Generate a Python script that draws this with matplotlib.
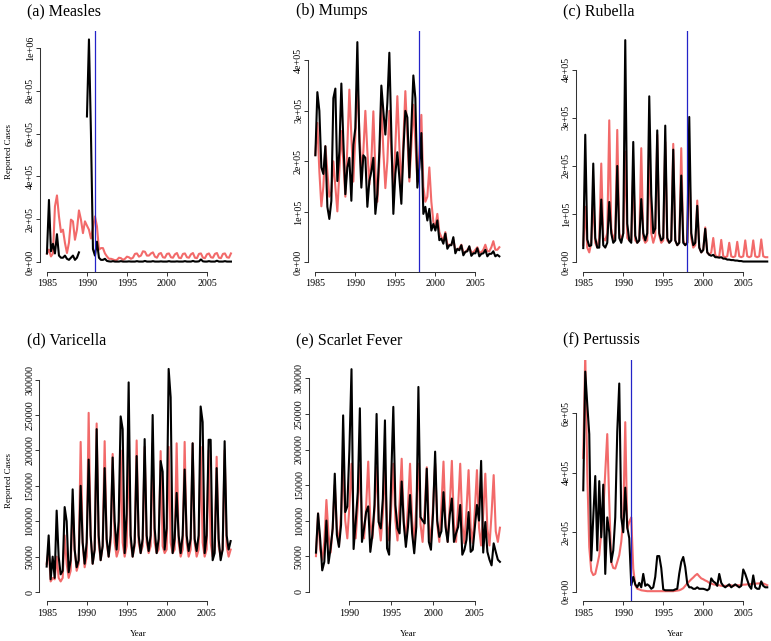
import numpy as np
import matplotlib
matplotlib.use("Agg")
import matplotlib.pyplot as plt

nan = np.nan

# ---------------- data (thousands of cases, quarterly samples) ----------------
# (a) Measles
measles_obs = [40, 290, 50, 85,  40, 130, 30, 20,  20, 30, 15, 10,  20, 30, 10, 20,
               45, nan, nan, nan,  680, 1040, 600, 60,  30, 95, 20, 10,  10, 15, 5, 3,
               2, 4, 2, 2,  2, 4, 2, 2,  2, 3, 2, 2,  2, 4, 2, 2,  2, 5, 2, 2,
               2, 4, 2, 2,  2, 3, 2, 2,  2, 4, 2, 2,  2, 3, 2, 2,  2, 4, 2, 2,
               2, 5, 2, 2,  3, 12, 3, 2,  2, 4, 2, 2,  2, 6, 2, 2,  2, 4, 2, 2,  2]
measles_fit = [39, 58, 26, 40,  260, 311, 213, 140,  151, 89, 42, 90,  198, 190, 104, 151,
               241, 198, 135, 190,  170, 151, 110, 160,  213, 167, 58, 65,  65, 40, 26, 15,
               15, 12, 8, 10,  20, 18, 10, 15,  25, 22, 15, 20,  38, 40, 25, 30,
               50, 48, 30, 30,  40, 45, 25, 20,  38, 42, 22, 20,  38, 40, 22, 20,
               36, 42, 20, 18,  38, 40, 22, 20,  36, 42, 20, 18,  38, 40, 20, 18,
               36, 40, 22, 20,  38, 42, 20, 18,  38, 40, 22, 20,  40]

# (b) Mumps
mumps_obs = [212, 337, 300, 188,  175, 230, 110, 86,  122, 325, 344, 161,  220, 354, 240, 135,
             188, 207, 122, 233,  266, 436, 240, 148,  212, 207, 110, 161,  180, 207, 96, 135,
             220, 350, 300, 253,  316, 415, 253, 96,  175, 218, 168, 116,  220, 300, 287, 168,
             266, 370, 325, 148,  188, 256, 96, 110,  83, 106, 63, 76,  63, 83, 44, 47,
             37, 57, 27, 34,  34, 50, 18, 27,  24, 34, 14, 21,  22, 32, 13, 18,
             18, 28, 12, 17,  18, 25, 12, 17,  17, 22, 12, 15,  12]
mumps_fit = [213, 276, 180, 111,  150, 230, 180, 130,  140, 200, 150, 101,  180, 260, 200, 130,
             230, 342, 250, 160,  250, 362, 260, 180,  220, 300, 220, 154,  200, 299, 180, 120,
             200, 320, 220, 147,  200, 300, 220, 150,  230, 329, 230, 140,  240, 339, 250, 160,
             230, 312, 240, 160,  220, 292, 150, 120,  130, 188, 120, 80,  70, 96, 60, 50,
             45, 60, 35, 35,  35, 45, 25, 25,  28, 35, 20, 20,  25, 30, 20, 20,
             25, 30, 20, 20,  25, 35, 22, 22,  30, 42, 25, 25,  30]

# (c) Rubella
rubella_obs = [29, 265, 47, 33,  35, 205, 50, 30,  30, 130, 35, 30,  40, 125, 60, 40,
               45, 200, 50, 40,  60, 462, 80, 45,  40, 250, 55, 40,  45, 131, 60, 45,
               60, 345, 140, 60,  70, 274, 60, 45,  50, 284, 50, 40,  45, 234, 45, 35,
               40, 180, 40, 35,  40, 302, 60, 35,  40, 117, 30, 20,  25, 69, 20, 15,
               13, 15, 10, 10,  9, 10, 7, 7,  5, 5, 4, 4,  3, 3, 2, 2,
               1, 1, 1, 1,  1, 1, 1, 1,  1, 1, 1, 1,  1]
rubella_fit = [35, 115, 30, 20,  40, 130, 40, 30,  50, 205, 50, 45,  60, 295, 70, 45,
               60, 275, 60, 45,  60, 230, 50, 45,  45, 190, 45, 40,  45, 237, 50, 40,
               45, 240, 60, 40,  55, 265, 55, 40,  45, 250, 45, 40,  45, 246, 45, 35,
               40, 237, 45, 35,  40, 210, 50, 30,  35, 128, 30, 20,  25, 72, 20, 15,
               20, 50, 15, 10,  12, 46, 12, 10,  12, 40, 12, 10,  12, 42, 12, 10,
               12, 45, 12, 10,  12, 45, 12, 10,  12, 47, 12, 10,  10]

# (d) Varicella
varicella_obs = [36, 80, 18, 50,  20, 115, 50, 25,  30, 120, 100, 28,  45, 145, 60, 35,
                 45, 150, 70, 40,  70, 187, 80, 40,  60, 230, 80, 45,  65, 175, 75, 50,
                 80, 190, 100, 60,  100, 248, 230, 55,  110, 296, 80, 50,  70, 192, 80, 55,
                 75, 216, 80, 58,  80, 250, 90, 55,  75, 185, 170, 60,  90, 315, 275, 55,
                 75, 140, 80, 55,  80, 173, 80, 58,  75, 210, 75, 58,  80, 262, 240, 55,
                 80, 215, 215, 45,  55, 175, 75, 45,  60, 213, 80, 60,  72]
varicella_fit = [40, 60, 15, 20,  18, 50, 20, 15,  20, 80, 40, 20,  30, 125, 60, 30,
                 40, 212, 70, 35,  50, 253, 80, 40,  60, 238, 70, 45,  65, 213, 70, 50,
                 70, 195, 70, 50,  60, 200, 70, 50,  65, 205, 70, 50,  65, 214, 70, 55,
                 65, 205, 70, 55,  65, 210, 70, 55,  60, 199, 65, 55,  60, 205, 70, 55,
                 60, 210, 70, 50,  60, 212, 70, 50,  60, 210, 70, 50,  60, 205, 70, 50,
                 60, 200, 70, 50,  60, 191, 65, 50,  60, 200, 65, 50,  60]

# (e) Scarlet Fever (starts 1986)
scarlet_obs = [55, 110, 75, 30,  42, 100, 40, 61,  89, 166, 80, 63,  94, 248, 112, 120,
               200, 313, 60, 98,  140, 258, 70, 89,  112, 120, 56, 80,  122, 250, 98, 89,
               131, 241, 61, 52,  160, 260, 122, 89,  82, 155, 96, 63,  91, 136, 82, 54,
               91, 288, 105, 100,  96, 173, 70, 59,  110, 197, 100, 77,  85, 140, 91, 70,
               108, 131, 70, 82,  91, 122, 52, 59,  73, 112, 56, 59,  91, 122, 100, 184,
               55, 98, 56, 45,  37, 68, 56, 45,  42]
scarlet_fit = [50, 110, 60, 45,  70, 129, 80, 55,  90, 150, 90, 65,  110, 178, 100, 75,
               120, 180, 100, 75,  120, 178, 100, 75,  120, 183, 100, 75,  115, 175, 100, 72,
               110, 170, 100, 72,  120, 180, 100, 72,  125, 187, 100, 72,  120, 180, 100, 70,
               120, 180, 95, 70,  115, 175, 95, 70,  120, 180, 95, 70,  120, 183, 95, 70,
               120, 184, 95, 70,  120, 180, 95, 68,  115, 171, 90, 68,  115, 171, 90, 65,
               110, 166, 88, 65,  110, 164, 85, 70,  90]

# (f) Pertussis
pertussis_obs = [341, 740, 630, 530,  105, 250, 389, 139,  372, 183, 360, 60,  250, 200, 100, 139,
                 250, 539, 700, 250,  200, 350, 217, 180,  22, 50, 25, 15,  30, 15, 60, 20,
                 25, 20, 10, 15,  50, 120, 120, 80,  8, 5, 5, 5,  5, 5, 8, 10,
                 61, 100, 117, 83,  28, 15, 15, 10,  10, 15, 10, 10,  10, 8, 5, 10,
                 45, 35, 30, 20,  60, 30, 20, 15,  20, 25, 15, 20,  25, 20, 15, 20,
                 75, 60, 40, 20,  10, 55, 15, 10,  10, 35, 20, 15,  15]
pertussis_fit = [450, 800, 400, 150,  70, 56, 60, 90,  123, 200, 268, 402,  530, 300, 100, 80,
                 78, 100, 123, 168,  246, 570, 212, 235,  250, 78, 22, 10,  8, 5, 4, 3,
                 2, 2, 2, 2,  2, 2, 2, 2,  2, 2, 2, 2,  2, 2, 3, 4,
                 5, 8, 12, 20,  28, 35, 42, 48,  55, 60, 52, 45,  42, 38, 35, 30,
                 28, 25, 24, 22,  22, 20, 20, 20,  20, 20, 22, 20,  22, 22, 22, 22,
                 24, 24, 25, 25,  26, 27, 27, 28,  28, 30, 28, 25,  22]

titles = ["(a) Measles", "(b) Mumps", "(c) Rubella",
          "(d) Varicella", "(e) Scarlet Fever", "(f) Pertussis"]
start_years = [1985, 1985, 1985, 1985, 1986, 1985]
intervention_years = [1991, 1998, 1998, None, None, 1991]
sci_ticks_a = [0, 2e5, 4e5, 6e5, 8e5, 1e6]
sci_labels_a = ["0e+00", "2e+05", "4e+05", "6e+05", "8e+05", "1e+06"]
sci_ticks_b = [0, 1e5, 2e5, 3e5, 4e5]
sci_labels_b = ["0e+00", "1e+05", "2e+05", "3e+05", "4e+05"]
plain_ticks = [0, 50000, 100000, 150000, 200000, 250000, 300000]
plain_labels = ["0", "50000", "100000", "150000", "200000", "250000", "300000"]
sci_ticks_f = [0, 2e5, 4e5, 6e5]
sci_labels_f = ["0e+00", "2e+05", "4e+05", "6e+05"]
year_ticks = [1985, 1990, 1995, 2000, 2005]
year_ticks_e = [1990, 1995, 2000, 2005]

series = [(measles_obs, measles_fit), (mumps_obs, mumps_fit), (rubella_obs, rubella_fit),
          (varicella_obs, varicella_fit), (scarlet_obs, scarlet_fit),
          (pertussis_obs, pertussis_fit)]

# ---------------- layout ----------------
W, H = 771, 641
plt.rcParams['font.family'] = ['Liberation Serif', 'DejaVu Serif']
fig = plt.figure(figsize=(W / 100, H / 100), dpi=100)

PW, PH = 198.7, 241.0
layout = [  # left px, top px, xlim, ylim, yticks, ylabels, xticks
    (39.6, 31, (1984.08, 2008.92), (-46700, 1079400), sci_ticks_a, sci_labels_a, year_ticks),
    (308.0, 31, (1984.08, 2008.92), (-19000, 458000), sci_ticks_b, sci_labels_b, year_ticks),
    (575.9, 31, (1984.08, 2008.92), (-20800, 481000), sci_ticks_b, sci_labels_b, year_ticks),
    (39.3, 360, (1984.08, 2008.92), (-12600, 327600), plain_ticks, plain_labels, year_ticks),
    (308.6, 360, (1985.12, 2008.88), (-13100, 325900), plain_ticks, plain_labels, year_ticks_e),
    (575.9, 360, (1984.08, 2008.92), (-31000, 779000), sci_ticks_f, sci_labels_f, year_ticks),
]

black = "#000000"
red = "#F26A6A"
blue = "#2323C8"

for i, (left, top, xl, yl, yt, ylab, xt) in enumerate(layout):
    ax = fig.add_axes([left / W, (H - top - PH) / H, PW / W, PH / H])
    obs, fit = series[i]
    obs = np.array(obs, dtype=float) * 1000
    fit = np.array(fit, dtype=float) * 1000
    t = start_years[i] + 0.25 * np.arange(len(obs))
    ax.plot(t, fit, color=red, lw=1.5, solid_joinstyle='round')
    ax.plot(t, obs, color=black, lw=1.5, solid_joinstyle='round')
    if intervention_years[i] is not None:
        ax.axvline(intervention_years[i], color=blue, lw=0.9)
    ax.set_xlim(*xl)
    ax.set_ylim(*yl)
    ax.set_yticks(yt)
    ax.set_yticklabels(ylab, rotation=90, va='center', ha='right')
    ax.set_xticks(xt)
    ax.set_xticklabels([str(x) for x in xt])
    for s in ['top', 'right']:
        ax.spines[s].set_visible(False)
    ax.spines['left'].set_bounds(yt[0], yt[-1])
    ax.spines['bottom'].set_bounds(xt[0], xt[-1])
    for s in ['left', 'bottom']:
        ax.spines[s].set_color('#333333')
        ax.spines[s].set_linewidth(0.75)
    ax.tick_params(axis='both', direction='out', length=2.8, width=0.7,
                   color='#333333', labelsize=7.2)
    ax.tick_params(axis='y', pad=0.8)
    ax.tick_params(axis='x', pad=2.6)
    ax.patch.set_visible(False)

    # title
    baseline = 15 if top < 100 else 344
    fig.text((left - 12.5) / W, 1 - baseline / H, titles[i], fontsize=11.5,
             ha='left', va='baseline')
    if i in (0, 3):
        fig.text(9.5 / W, 1 - (top + PH / 2) / H, "Reported Cases", fontsize=6.3,
                 rotation=90, ha='center', va='center')
    if i >= 3:
        fig.text((left + PW / 2) / W, 1 - 634 / H, "Year", fontsize=6.5,
                 ha='center', va='center')

fig.savefig("out.png", dpi=100)
